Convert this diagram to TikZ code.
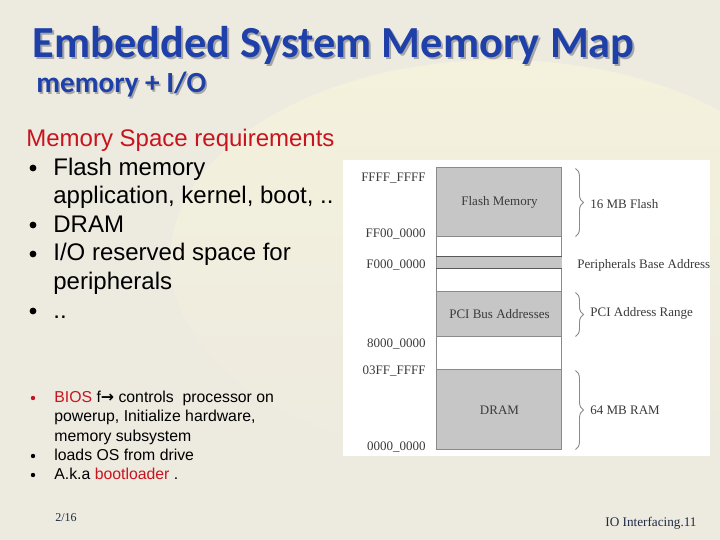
\documentclass[tikz,border=0pt]{standalone}
\usepackage{fontspec}
\setmainfont{Liberation Sans}
\newfontfamily\titlefont{Carlito}
\newfontfamily\mapfont{Liberation Serif}
\newfontfamily\arrowfont{DejaVu Sans}
\usetikzlibrary{decorations.pathreplacing,positioning}
\definecolor{slidebg}{HTML}{EDEAE0}
\definecolor{glow}{HTML}{F4F2DC}
\definecolor{titleblue}{HTML}{1E40A8}
\definecolor{hotred}{HTML}{C8141E}
\definecolor{blockgray}{HTML}{C6C6C6}
\definecolor{edgegray}{HTML}{8A8A8A}
\definecolor{mapink}{HTML}{3A3A3A}
\definecolor{footnavy}{HTML}{1F2A44}

\tikzset{
  bigtext/.style={anchor=base west,inner sep=0pt,font=\fontsize{12}{14}\selectfont},
  smalltext/.style={anchor=base west,inner sep=0pt,font=\fontsize{7.9}{9}\selectfont},
  bigdot/.style={circle,fill=black,inner sep=0pt,minimum size=3.4pt},
  smalldot/.style={circle,fill=black,inner sep=0pt,minimum size=2.2pt},
  block/.style={draw=edgegray,fill=blockgray,line width=0.5pt,inner sep=0pt,
    minimum width=62.5pt,text=mapink,font=\mapfont\fontsize{6.5}{7}\selectfont},
  addr/.style={anchor=east,inner sep=0pt,text=mapink,font=\mapfont\fontsize{6.5}{7}\selectfont},
  maplbl/.style={anchor=west,inner sep=0pt,text=mapink,font=\mapfont\fontsize{6.5}{7}\selectfont},
  curly/.style={draw=edgegray,line width=0.45pt,decorate,decoration={brace,amplitude=4pt}}
}

\begin{document}
\begin{tikzpicture}[x=0.5pt,y=-0.5pt]
% ---- slide background ----
\fill[slidebg] (0,0) rectangle (720,540);
\begin{scope}
\clip (0,0) rectangle (720,540);
\shade[top color=glow,bottom color=slidebg] (500,260) ellipse[x radius=330,y radius=200];
\end{scope}
\useasboundingbox (0,0) rectangle (720,540);

% ---- title ----
\node[anchor=base west,inner sep=0pt,text=black!35,font=\titlefont\bfseries\fontsize{22.2}{26}\selectfont]
  at (34,60) {Embedded System Memory Map};
\node[anchor=base west,inner sep=0pt,text=titleblue,font=\titlefont\bfseries\fontsize{22.2}{26}\selectfont]
  (title) at (32,58) {Embedded System Memory Map};
\node[anchor=base west,inner sep=0pt,text=black!35,font=\titlefont\bfseries\fontsize{14.6}{16}\selectfont]
  at (37.5,94.5) {memory + I/O};
\node[anchor=base west,inner sep=0pt,text=titleblue,font=\titlefont\bfseries\fontsize{14.6}{16}\selectfont]
  (subtitle) at (36,93) {memory + I/O};

% ---- upper list ----
\node[bigtext,text=hotred] (req) at (26,147) {Memory Space requirements};
\node[bigdot] (b1) at (33,168) {};
\node[bigtext] (i1) at (53,176) {Flash memory};
\node[bigtext] (i1b) at (53,204) {application, kernel, boot, ..};
\node[bigdot] (b2) at (33,225) {};
\node[bigtext] (i2) at (53,233) {DRAM};
\node[bigdot] (b3) at (33,254) {};
\node[bigtext] (i3) at (53,261) {I/O reserved space for};
\node[bigtext] (i3b) at (53,290) {peripherals};
\node[bigdot] (b4) at (33,311) {};
\node[bigtext] (i4) at (53,319) {..};

% ---- lower list ----
\node[smalldot,fill=hotred] (s1) at (33,398) {};
\node[smalltext] (j1) at (54,403) {\textcolor{hotred}{BIOS} f{\arrowfont\bfseries →} controls\ \ processor on};
\node[smalltext] (j1b) at (54,422) {powerup, Initialize hardware,};
\node[smalltext] (j1c) at (54,442) {memory subsystem};
\node[smalldot] (s2) at (33,456) {};
\node[smalltext] (j2) at (54,461) {loads OS from drive};
\node[smalldot] (s3) at (33,475) {};
\node[smalltext] (j3) at (54,480) {A.k.a \textcolor{hotred}{bootloader} .};

% ---- footer ----
\node[anchor=base west,inner sep=0pt,text=footnavy,font=\mapfont\fontsize{6}{7}\selectfont]
  (page) at (55,522) {2/16};
\node[anchor=base west,inner sep=0pt,text=footnavy,font=\mapfont\fontsize{6.6}{8}\selectfont]
  (foot) at (605,527) {IO Interfacing.11};

% ---- memory map panel ----
\fill[white] (343,160) rectangle (710,456);
\draw[edgegray,line width=0.5pt] (437,168) rectangle (562,450);
\node[block,minimum height=34.5pt] (flash) at (499.5,202.5) {Flash Memory};
\node[block,minimum height=5.5pt,draw=none] (periph) at (499.5,262.5) {};
\draw[black!65,line width=0.9pt] (periph.north west) -- (periph.north east)
  (periph.south west) -- (periph.south east);
\node[block,minimum height=22.5pt] (pci) at (499.5,314.5) {PCI Bus Addresses};
\node[block,minimum height=40pt] (dram) at (499.5,410) {DRAM};

% addresses
\node[addr] (a1) at (426,178) {FFFF\_FFFF};
\node[addr] (a2) at (426,234) {FF00\_0000};
\node[addr] (a3) at (426,265) {F000\_0000};
\node[addr] (a4) at (426,344) {8000\_0000};
\node[addr] (a5) at (426,371) {03FF\_FFFF};
\node[addr] (a6) at (426,447) {0000\_0000};

% braces and sizes
\draw[curly] ([xshift=6.5pt,yshift=-0.5pt]flash.north east) -- ([xshift=6.5pt,yshift=0.5pt]flash.south east);
\draw[curly] ([xshift=6.5pt,yshift=-0.5pt]pci.north east) -- ([xshift=6.5pt,yshift=0.5pt]pci.south east);
\draw[curly] ([xshift=6.5pt,yshift=-0.5pt]dram.north east) -- ([xshift=6.5pt,yshift=0.5pt]dram.south east);
\node[maplbl] (flashsz) at (590,204) {16 MB Flash};
\node[maplbl] (periphlbl) at (577,265) {Peripherals Base Address};
\node[maplbl] (pcisz) at (590,313) {PCI Address Range};
\node[maplbl] (dramsz) at (590,410) {64 MB RAM};
\end{tikzpicture}
\end{document}
